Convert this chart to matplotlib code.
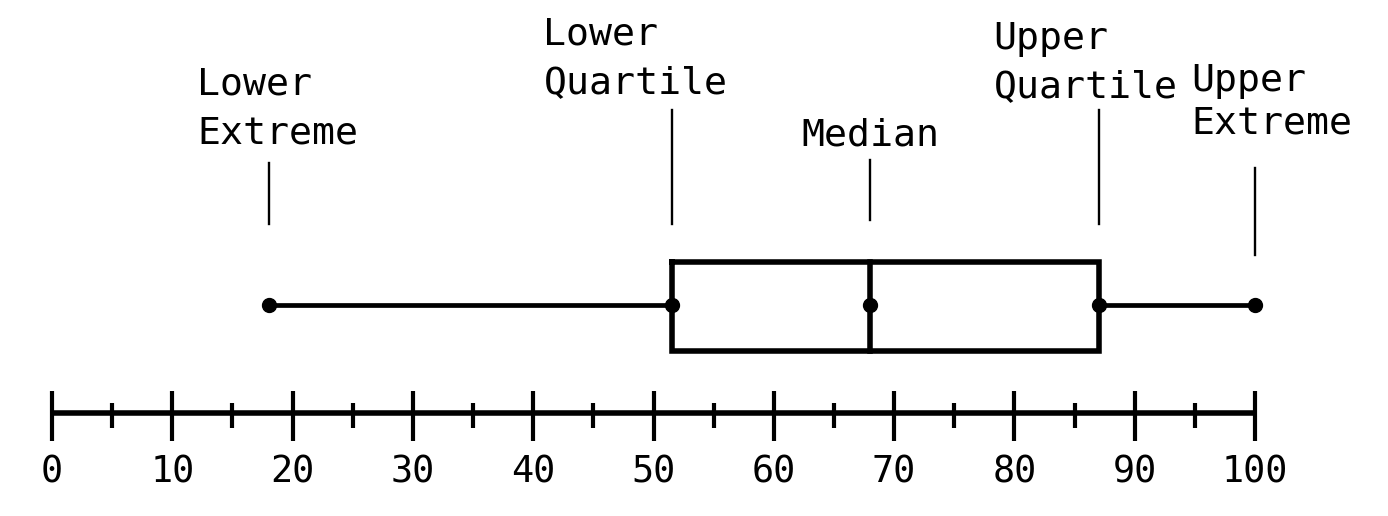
import matplotlib
matplotlib.use('Agg')
import matplotlib.pyplot as plt
import numpy as np

# five-number summary
labels = ['Lower\nExtreme', 'Lower\nQuartile', 'Median', 'Upper\nQuartile', 'Upper\nExtreme']
values = [18, 51.5, 68, 87, 100]
major_ticks = list(range(0, 101, 10))
minor_ticks = list(range(5, 100, 10))
tick_labels = [str(t) for t in major_ticks]

# layout (pixel-like y units, top = 0)
label_dx = [0.75, -3.0, 0.0, -1.1, 1.4]
label_base = [143, 93, 145, 97, 133]
label_spacing = [1.44, 1.44, 1.44, 1.44, 1.2]
pointer_top = [163, 110, 160, 110, 168]
pointer_bot = [224, 224, 220, 224, 255]

W, H = 1388, 516
fig = plt.figure(figsize=(W / 100, H / 100), dpi=100)
ax = fig.add_axes([0, 0, 1, 1])
px = 1203 / 100  # pixels per data unit
ax.set_xlim(-52 / px, (W - 52) / px)
ax.set_ylim(H, 0)
ax.axis('off')

FONT = 'DejaVu Sans Mono'
FS = 27.5
lw_thick = 4.0

# number line
ax.plot([major_ticks[0], major_ticks[-1]], [413, 413], color='black', lw=lw_thick,
        solid_capstyle='butt')
ax.vlines(major_ticks, 391, 441, color='black', lw=3.0)
ax.vlines(minor_ticks, 403, 428, color='black', lw=3.0)
for t, lab in zip(major_ticks, tick_labels):
    ax.text(t, 472, lab, ha='center', va='center', fontsize=FS - 1, family=FONT)

# box plot
le, q1, med, q3, ue = values
ax.plot([le, q1], [305, 305], color='black', lw=3.4)
ax.plot([q3, ue], [305, 305], color='black', lw=3.4)
ax.plot([q1, q3, q3, q1, q1], [262, 262, 351, 351, 262], color='black', lw=lw_thick,
        solid_joinstyle='miter')
ax.plot([med, med], [262, 351], color='black', lw=lw_thick)
ax.plot(values, [305] * 5, 'o', color='black', markersize=10)

# labels with pointer lines
for v, lab, dx, yb, ls, yt, ybot in zip(values, labels, label_dx, label_base,
                                         label_spacing, pointer_top, pointer_bot):
    ax.plot([v, v], [yt, ybot], color='black', lw=1.7)
    ax.text(v + dx, yb, lab, ha='center', va='baseline', fontsize=FS, family=FONT,
            linespacing=ls, multialignment='left')

fig.savefig('out.png', dpi=100, facecolor='white')
